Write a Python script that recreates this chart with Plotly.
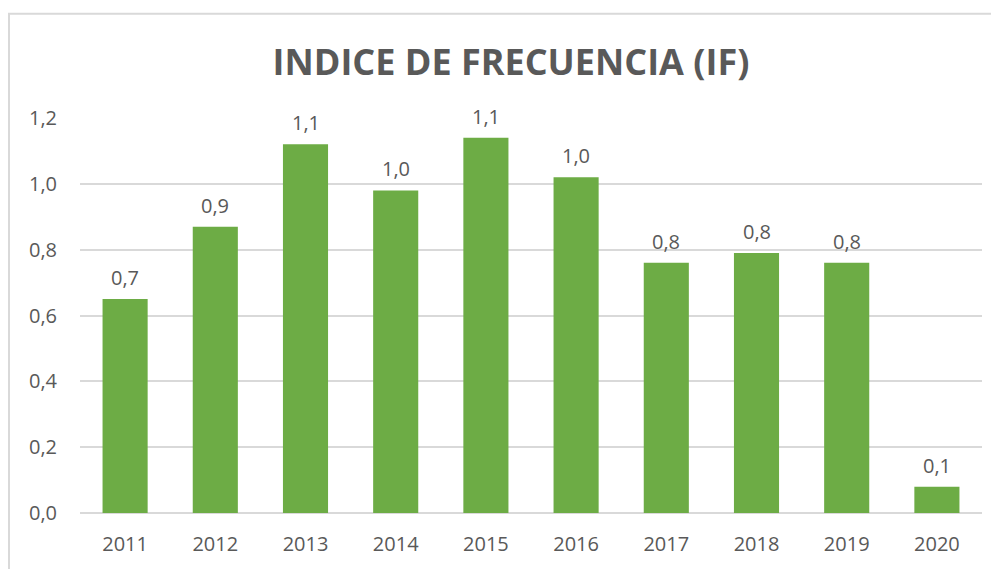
import plotly.graph_objects as go

years = ["2011", "2012", "2013", "2014", "2015", "2016", "2017", "2018", "2019", "2020"]
indice = [0.65, 0.87, 1.12, 0.98, 1.14, 1.02, 0.76, 0.79, 0.76, 0.08]
y_ticks = [0.0, 0.2, 0.4, 0.6, 0.8, 1.0, 1.2]

labels = [f"{v:.1f}".replace(".", ",") for v in indice]
gray = "#595959"
font = "Open Sans"

fig = go.Figure()
fig.add_trace(go.Bar(
    x=years, y=indice,
    marker=dict(color="#6dac45", line=dict(width=0)),
))

# data labels: category index positions on the category axis
for i, (v, lab) in enumerate(zip(indice, labels)):
    fig.add_annotation(x=i, y=v, text=lab, showarrow=False, yanchor="bottom",
                       yshift=6, font=dict(family=font, size=20, color=gray))

# page body has an 8px offset; work in shifted coordinates
OFF = 8
W, H = 999 - OFF, 569 - OFF
ml, mr, mt, mb = 80 - OFF, 17, 118 - OFF, 53
pw, ph = W - ml - mr, H - mt - mb

def px(x):
    return (x - OFF - ml) / pw

def py(y):
    return (H - mb - (y - OFF)) / ph

fig.update_layout(
    width=W, height=H,
    margin=dict(l=ml, r=mr, t=mt, b=mb),
    paper_bgcolor="white", plot_bgcolor="white",
    separators=",.",
    bargap=0.5,
    showlegend=False,
    title=dict(text="<b>INDICE DE FRECUENCIA (IF)</b>", x=(511 - OFF) / W, xanchor="center",
               y=(H - (62 - OFF)) / H, yanchor="middle",
               font=dict(family=font, size=36, color=gray)),
    xaxis=dict(type="category", range=[-0.5, len(years) - 0.5], showgrid=False,
               showline=False, ticks="", ticklabelstandoff=17,
               tickfont=dict(family=font, size=20, color=gray)),
    yaxis=dict(range=[0, 1.2], tickvals=y_ticks, tickformat=".1f",
               showgrid=True, gridcolor="#d9d9d9", gridwidth=1.5,
               zeroline=True, zerolinecolor="#d9d9d9", zerolinewidth=1.5,
               showline=False, ticks="", ticklabelstandoff=22,
               tickfont=dict(family=font, size=20, color=gray)),
    shapes=[dict(type="rect", xref="paper", yref="paper",
                 x0=px(9), x1=px(1010), y0=py(580), y1=py(13),
                 line=dict(color="#d9d9d9", width=2), layer="below")],
)

fig.write_html("out.html")
